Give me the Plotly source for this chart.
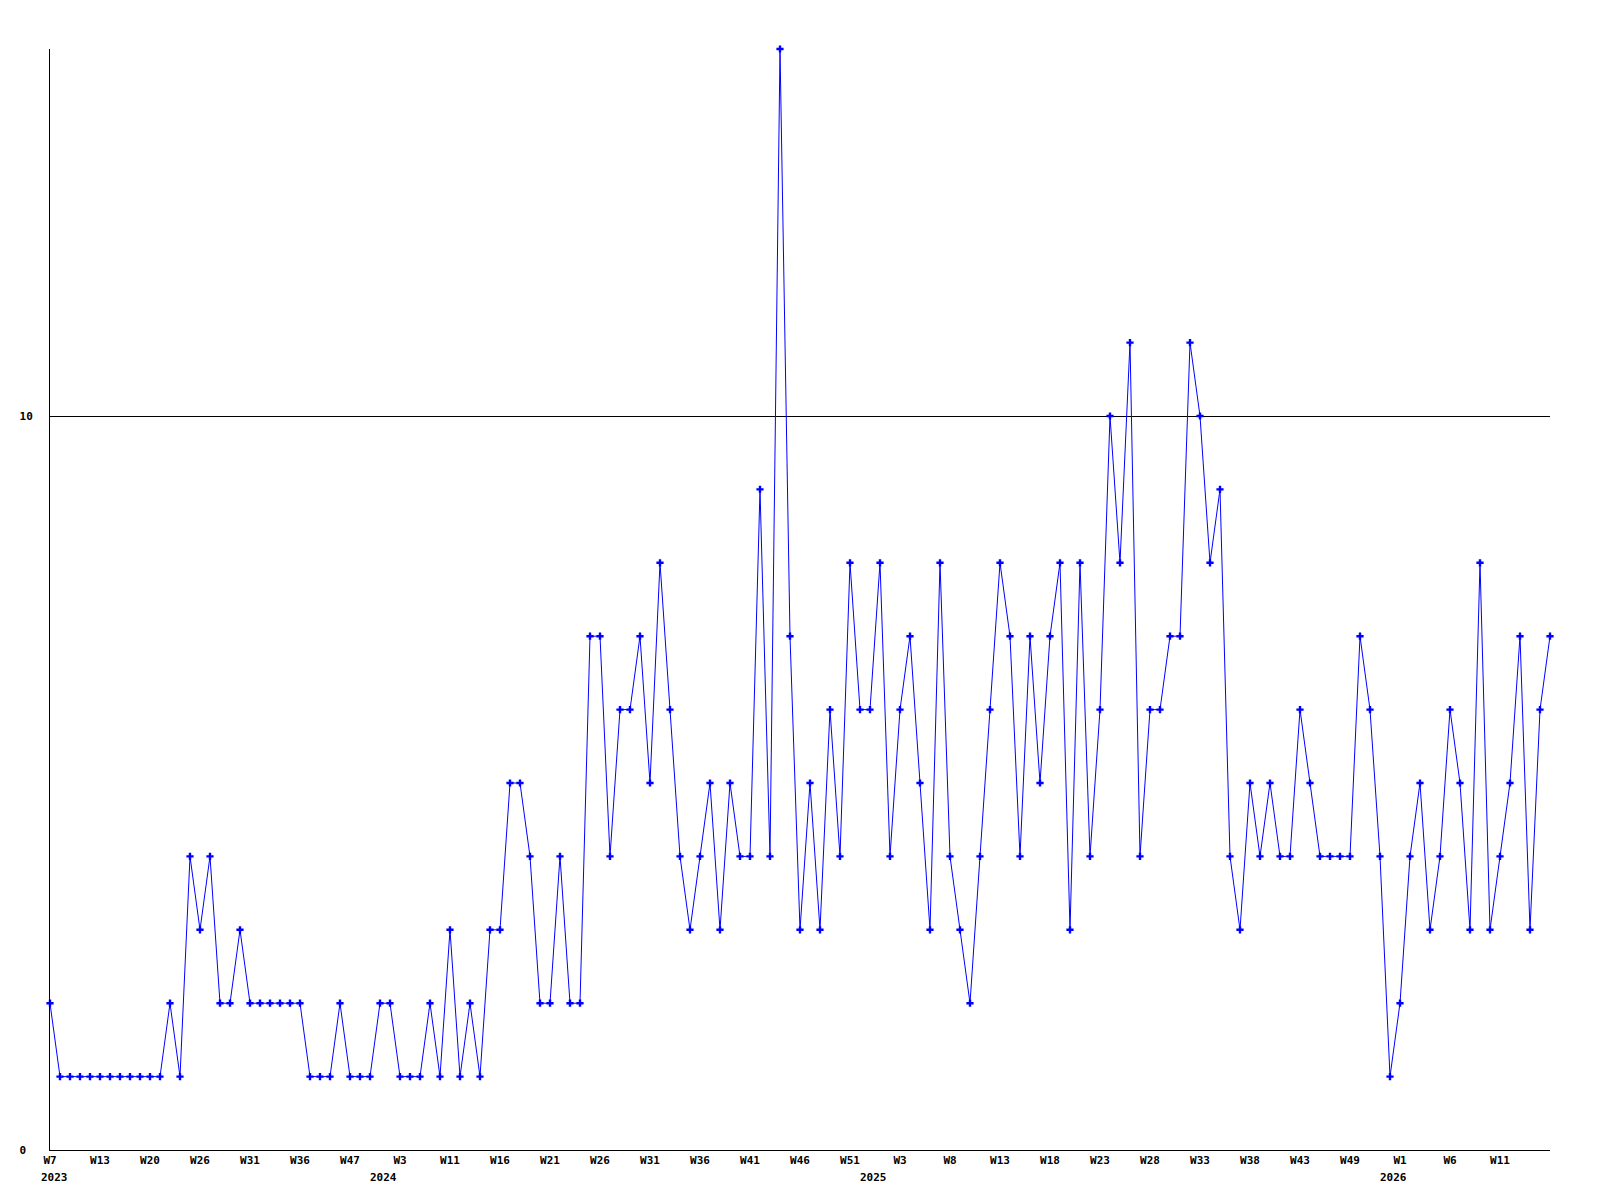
import plotly.graph_objects as go

values = [
    2, 1, 1, 1, 1, 1, 1, 1, 1, 1, 1, 1, 2, 1, 4, 3, 4, 2, 2, 3,
    2, 2, 2, 2, 2, 2, 1, 1, 1, 2, 1, 1, 1, 2, 2, 1, 1, 1, 2, 1,
    3, 1, 2, 1, 3, 3, 5, 5, 4, 2, 2, 4, 2, 2, 7, 7, 4, 6, 6, 7,
    5, 8, 6, 4, 3, 4, 5, 3, 5, 4, 4, 9, 4, 15, 7, 3, 5, 3, 6, 4,
    8, 6, 6, 8, 4, 6, 7, 5, 3, 8, 4, 3, 2, 4, 6, 8, 7, 4, 7, 5,
    7, 8, 3, 8, 4, 6, 10, 8, 11, 4, 6, 6, 7, 7, 11, 10, 8, 9, 4, 3,
    5, 4, 5, 4, 4, 6, 5, 4, 4, 4, 4, 7, 6, 4, 1, 2, 4, 5, 3, 4,
    6, 5, 3, 8, 3, 4, 5, 7, 3, 6, 7,
]

week_labels = [
    "W7", "W13", "W20", "W26", "W31", "W36", "W47", "W3", "W11", "W16",
    "W21", "W26", "W31", "W36", "W41", "W46", "W51", "W3", "W8", "W13",
    "W18", "W23", "W28", "W33", "W38", "W43", "W49", "W1", "W6", "W11",
]
label_step = 5

years = ["2023", "2024", "2025", "2026"]
year_positions = [0.4, 33.3, 82.3, 134.3]  # where each year label sits, in week-index units

y_tick_values = [0, 10]
y_tick_text = ["0\u00a0", "10"]

x = list(range(len(values)))
tickvals = [i * label_step for i in range(len(week_labels))]

font = dict(family="DejaVu Sans Mono", size=11, color="black", weight="bold")

fig = go.Figure()
fig.add_trace(go.Scatter(
    x=x, y=values, mode="lines+markers",
    line=dict(color="#0000ff", width=1),
    marker=dict(symbol="cross", size=6, color="#0000ff", line=dict(width=0)),
    cliponaxis=False, hoverinfo="skip",
))

for yr, pos in zip(years, year_positions):
    fig.add_annotation(
        x=pos, xref="x", y=0, yref="paper", text=yr, showarrow=False,
        xanchor="center", yanchor="middle", yshift=-27, font=font,
    )

fig.update_layout(
    width=1600, height=1200,
    margin=dict(l=42, r=58, t=41, b=58),
    paper_bgcolor="white", plot_bgcolor="white",
    showlegend=False,
    font=font,
    xaxis=dict(
        range=[0, len(values) - 1], tickvals=tickvals, ticktext=week_labels,
        showgrid=False, zeroline=False, showline=True, linecolor="black", linewidth=1,
        ticks="", tickfont=font, ticklabelstandoff=0, fixedrange=True,
    ),
    yaxis=dict(
        range=[0, 15], tickvals=y_tick_values, ticktext=y_tick_text,
        showgrid=True, gridcolor="black", gridwidth=1, zeroline=False,
        showline=True, linecolor="black", linewidth=1,
        ticks="", tickfont=font, ticklabelstandoff=14, fixedrange=True,
    ),
)

fig.write_html("out.html")
